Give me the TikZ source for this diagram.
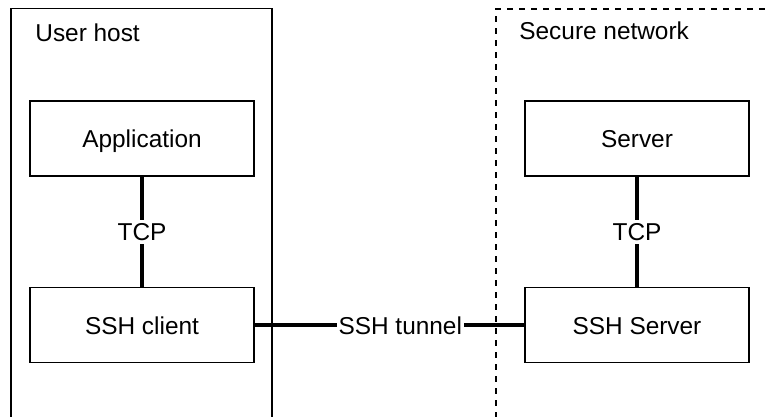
\documentclass[tikz,border=0pt]{standalone}
\usepackage{fontspec}
\setmainfont{Liberation Sans}
\begin{document}
\begin{tikzpicture}[x=0.5pt,y=-0.5pt,
  box/.style={draw,line width=0.9pt,minimum width=112pt,minimum height=37.5pt,inner sep=0pt,text height=9.6pt,text depth=0.5pt,font=\fontsize{12.2}{14}\selectfont},
  link/.style={line width=1.6pt},
  lbl/.style={fill=white,inner sep=1pt,text height=9.6pt,text depth=0.5pt,font=\fontsize{12.2}{14}\selectfont},
  title/.style={anchor=west,inner sep=0pt,font=\fontsize{12.2}{14}\selectfont}]
\useasboundingbox (0,0) rectangle (768,417);
\clip (0,0) rectangle (768,417);
% enclosing regions
\draw[line width=0.7pt] (11,430) -- (11,8.5) -- (272,8.5) -- (272,430);
\draw[line width=0.7pt,dash pattern=on 3pt off 3pt] (496,430) -- (496,9) -- (780,9);
\node[title] (uh) at (35,33) {User host};
\node[title] (sn) at (519,31) {Secure network};
% hosts
\node[box] (app) at (142,138.5) {Application};
\node[box] (cli) at (142,325) {SSH client};
\node[box] (srv) at (637,138.5) {Server};
\node[box] (ssrv) at (637,325) {SSH Server};
% connections
\draw[link] (app) -- node[lbl] {TCP} (cli);
\draw[link] (srv) -- node[lbl] {TCP} (ssrv);
\draw[link] (cli) -- node[lbl,pos=0.54] {SSH tunnel} (ssrv);
\end{tikzpicture}
\end{document}
